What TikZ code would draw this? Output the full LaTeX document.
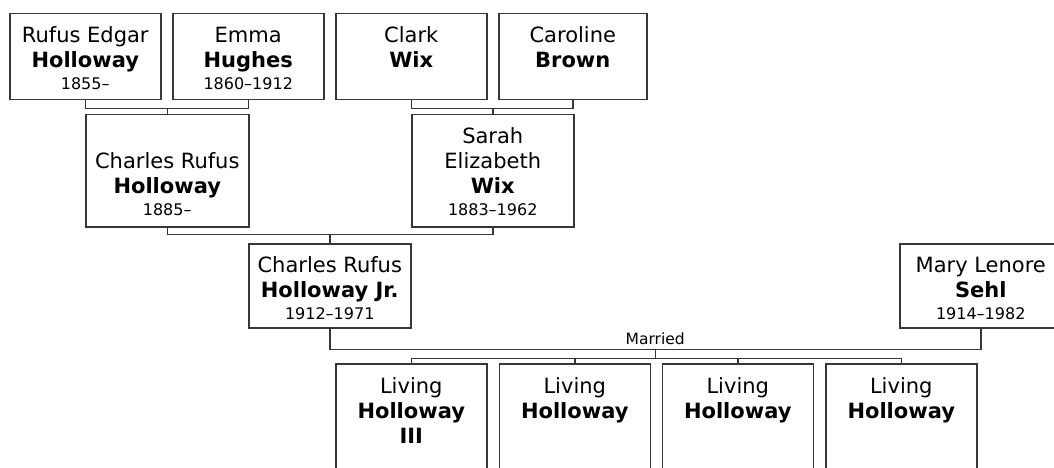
\documentclass[tikz,border=0pt]{standalone}
\usepackage{fontspec}
\setmainfont{DejaVu Sans}
\usetikzlibrary{calc}
\newcommand\nmfont{\fontsize{21pt}{25pt}\selectfont}
\newcommand\dtfont{\fontsize{16pt}{19pt}\selectfont}
\newcommand\plines[1]{\begin{tabular}[t]{@{}c@{}}#1\end{tabular}}
\newcommand\yrs[1]{\\[-3.5pt]{\dtfont #1}}
\definecolor{lc}{RGB}{55,55,55}
\tikzset{
  pbox/.style={draw=lc, line width=1.5pt, fill=white, inner sep=0pt, anchor=north west,
               font=\nmfont, text height=29pt},
  conn/.style={draw=lc, line width=1.5pt},
  mlabel/.style={font=\fontsize{15.5pt}{18pt}\selectfont, inner sep=0pt, anchor=base},
}
\begin{document}
\begin{tikzpicture}[x=1pt, y=-1pt]
\path[use as bounding box, clip] (0,0) rectangle (1054,468);
\fill[white] (0,0) rectangle (1054,468);
% generation 1
\node[pbox, minimum width=151pt, text depth=57pt] (rufus) at (9,13)
  {\plines{Rufus Edgar\\\textbf{Holloway}\yrs{1855--}}};
\node[pbox, minimum width=151pt, text depth=57pt] (emma) at (172,13)
  {\plines{Emma\\\textbf{Hughes}\yrs{1860--1912}}};
\node[pbox, minimum width=151pt, text depth=57pt] (clark) at (335,13)
  {\plines{Clark\\\textbf{Wix}}};
\node[pbox, minimum width=148pt, text depth=57pt] (caroline) at (498,13)
  {\plines{Caroline\\\textbf{Brown}}};
% generation 2
\node[pbox, minimum width=163pt, text height=54pt, text depth=58pt] (charles) at (85,114)
  {\plines{Charles Rufus\\\textbf{Holloway}\yrs{1885--}}};
\node[pbox, minimum width=162pt, text depth=83pt] (sarah) at (411,114)
  {\plines{Sarah\\Elizabeth\\\textbf{Wix}\yrs{1883--1962}}};
% generation 3
\node[pbox, minimum width=162pt, text depth=55pt] (jr) at (248,243)
  {\plines{Charles Rufus\\\textbf{Holloway Jr.}\yrs{1912--1971}}};
\node[pbox, minimum width=162pt, text depth=55pt] (mary) at (899,243)
  {\plines{Mary Lenore\\\textbf{Sehl}\yrs{1914--1982}}};
% generation 4
\node[pbox, minimum width=151pt, text height=30pt, text depth=100pt] (k1) at (335,363)
  {\plines{Living\\\textbf{Holloway}\\\textbf{III}}};
\node[pbox, minimum width=151pt, text height=30pt, text depth=100pt] (k2) at (498.5,363)
  {\plines{Living\\\textbf{Holloway}}};
\node[pbox, minimum width=151pt, text height=30pt, text depth=100pt] (k3) at (661.5,363)
  {\plines{Living\\\textbf{Holloway}}};
\node[pbox, minimum width=151pt, text height=30pt, text depth=100pt] (k4) at (825,363)
  {\plines{Living\\\textbf{Holloway}}};
% connectors
\draw[conn] (rufus.south) -- ++(0,8) coordinate (b1) -| (emma.south);
\draw[conn] (charles.north) -- (charles.north |- b1);
\draw[conn] (clark.south) -- ++(0,8) coordinate (b2) -| (caroline.south);
\draw[conn] (sarah.north) -- (sarah.north |- b2);
\draw[conn] (charles.south) -- ++(0,7) coordinate (b3) -| (sarah.south);
\draw[conn] (jr.north) -- (jr.north |- b3);
\draw[conn] (jr.south) -- ++(0,21) coordinate (b4) -| (mary.south);
\coordinate (mid) at ($(b4)!0.5!(mary.south |- b4)$);
\node[mlabel] (married) at ([yshift=5pt]mid) {Married};
\draw[conn] (mid) -- ++(0,9) coordinate (b5);
\draw[conn] (k1.north) |- (b5) -| (k4.north);
\draw[conn] (k2.north) -- (k2.north |- b5);
\draw[conn] (k3.north) -- (k3.north |- b5);
\end{tikzpicture}
\end{document}
